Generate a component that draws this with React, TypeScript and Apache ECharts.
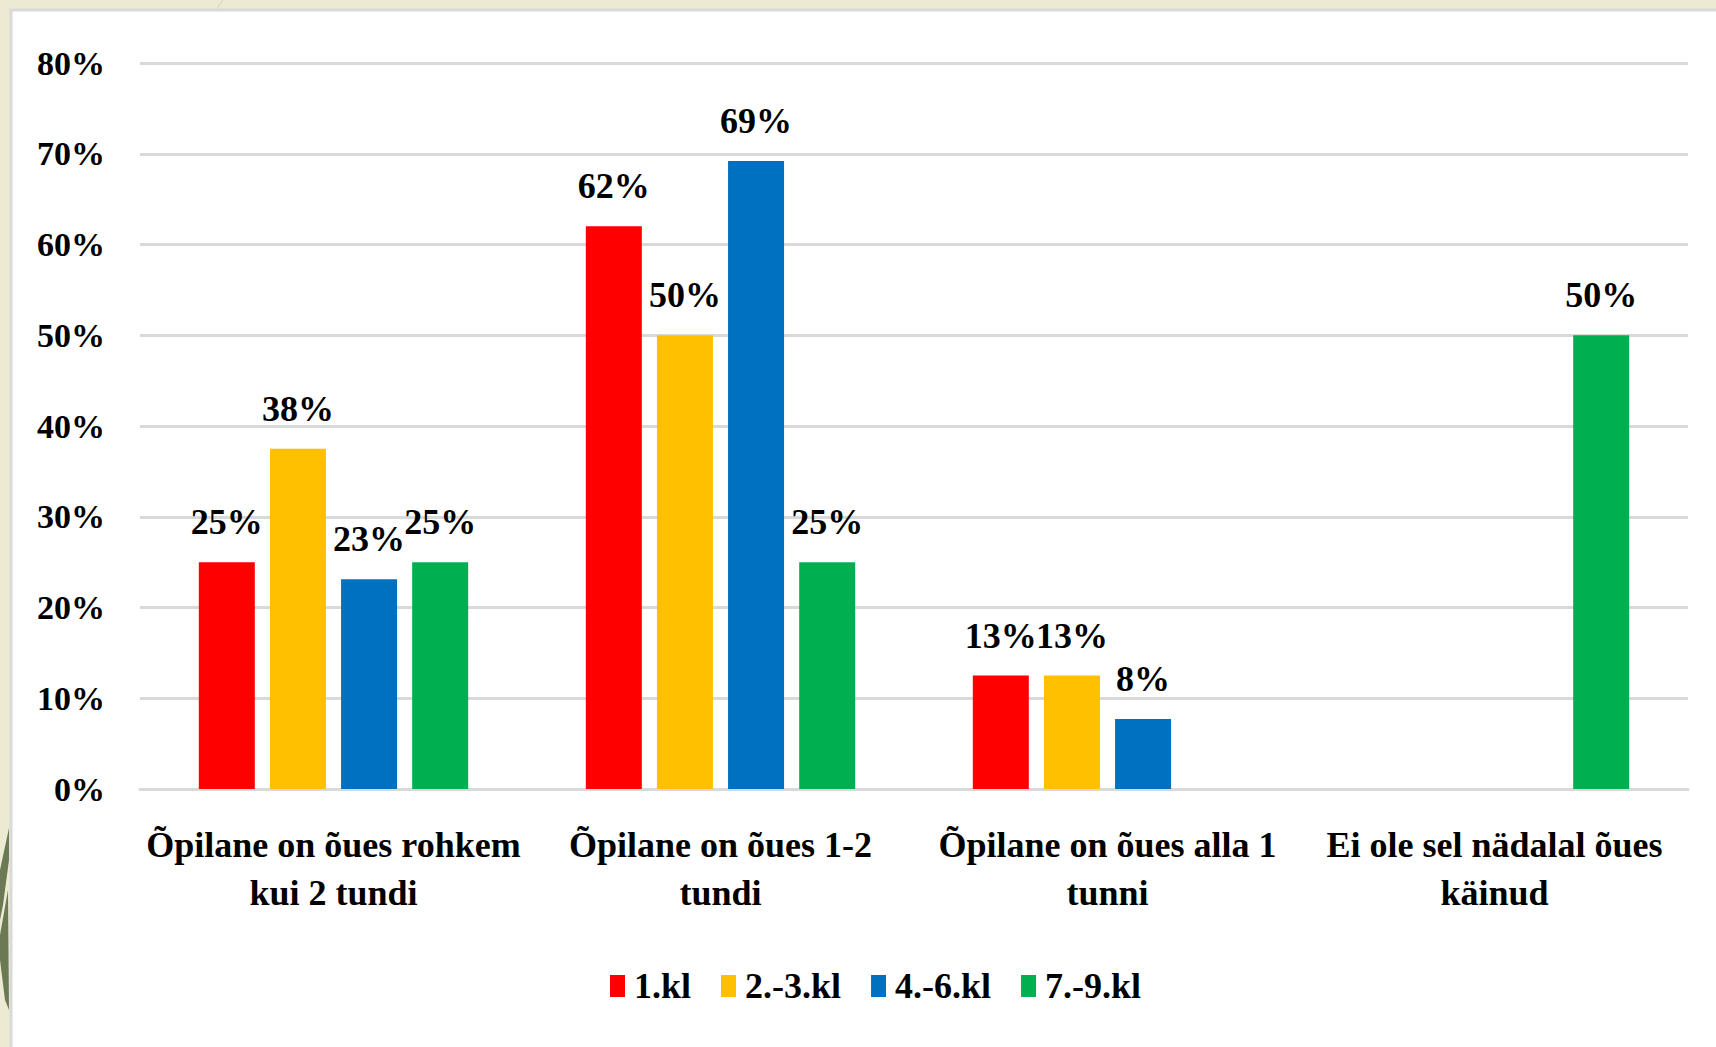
import React, { useEffect, useRef } from "react";
import * as echarts from "echarts";

const categories = [
  "Õpilane on õues rohkem\nkui 2 tundi",
  "Õpilane on õues 1-2\ntundi",
  "Õpilane on õues alla 1\ntunni",
  "Ei ole sel nädalal õues\nkäinud",
];
const seriesNames = ["1.kl", "2.-3.kl", "4.-6.kl", "7.-9.kl"];
const grade1 = [25, 62, 12.5, null];
const grade2to3 = [37.5, 50, 12.5, null];
const grade4to6 = [23.1, 69.2, 7.7, null];
const grade7to9 = [25, 25, null, 50];
const colors = ["#FF0000", "#FFC000", "#0070C0", "#00B050"];
const yTicks = { min: 0, max: 80, interval: 10 };

const FONT = "'Liberation Serif', 'Times New Roman', serif";

export default function App() {
  const ref = useRef<HTMLDivElement>(null);
  useEffect(() => {
    if (!ref.current) return;
    const chart = echarts.init(ref.current, null, { renderer: "svg" });
    const values = [grade1, grade2to3, grade4to6, grade7to9];
    chart.setOption({
      animation: false,
      backgroundColor: "#EDEAD4",
      textStyle: { fontFamily: FONT },
      graphic: [
        {
          type: "line",
          z: 0,
          shape: { x1: 223, y1: 0, x2: 216, y2: 10 },
          style: { stroke: "#D5D0B2", lineWidth: 1 },
        },
        {
          type: "polygon",
          z: 0,
          shape: { points: [[0, 870], [9, 828], [9, 860], [3, 905], [0, 920]] },
          style: { fill: "#6B7A55" },
        },
        {
          type: "polygon",
          z: 0,
          shape: { points: [[0, 935], [8, 890], [9, 1010], [5, 1000], [0, 960]] },
          style: { fill: "#6B7A55" },
        },
        {
          type: "rect",
          z: 0,
          shape: { x: 11, y: 10, width: 1720, height: 1060 },
          style: { fill: "#FFFFFF", stroke: "#D9D9D9", lineWidth: 3 },
        },
      ],
      grid: { left: 140, right: 28, top: 63, bottom: 258, containLabel: false },
      legend: {
        left: 605,
        top: 963,
        icon: "rect",
        itemWidth: 15,
        itemHeight: 22,
        itemGap: 30,
        data: seriesNames,
        textStyle: {
          fontFamily: FONT,
          fontWeight: "bold",
          fontSize: 36,
          color: "#000",
          padding: [0, 0, 0, 4],
        },
      },
      xAxis: {
        type: "category",
        data: categories,
        axisLine: { show: true, lineStyle: { color: "#D9D9D9", width: 3 } },
        axisTick: { show: false },
        axisLabel: {
          interval: 0,
          margin: 32,
          lineHeight: 48,
          fontFamily: FONT,
          fontWeight: "bold",
          fontSize: 36,
          color: "#000",
        },
      },
      yAxis: {
        type: "value",
        min: yTicks.min,
        max: yTicks.max,
        interval: yTicks.interval,
        axisLine: { show: false },
        axisTick: { show: false },
        splitLine: { lineStyle: { color: "#D9D9D9", width: 3 } },
        axisLabel: {
          margin: 35,
          formatter: "{value}%",
          fontFamily: FONT,
          fontWeight: "bold",
          fontSize: 34,
          color: "#000",
        },
      },
      series: seriesNames.map((name, i) => ({
        name,
        type: "bar",
        data: values[i],
        barWidth: 56,
        barGap: "27%",
        itemStyle: { color: colors[i] },
        label: {
          show: true,
          position: "top",
          distance: 22,
          formatter: (p: any) => Math.round(p.value) + "%",
          fontFamily: FONT,
          fontWeight: "bold",
          fontSize: 36,
          color: "#000",
        },
      })),
    });
    return () => chart.dispose();
  }, []);
  return (
    <div
      ref={ref}
      style={{ position: "fixed", left: 0, top: 0, width: 1716, height: 1047 }}
    />
  );
}
